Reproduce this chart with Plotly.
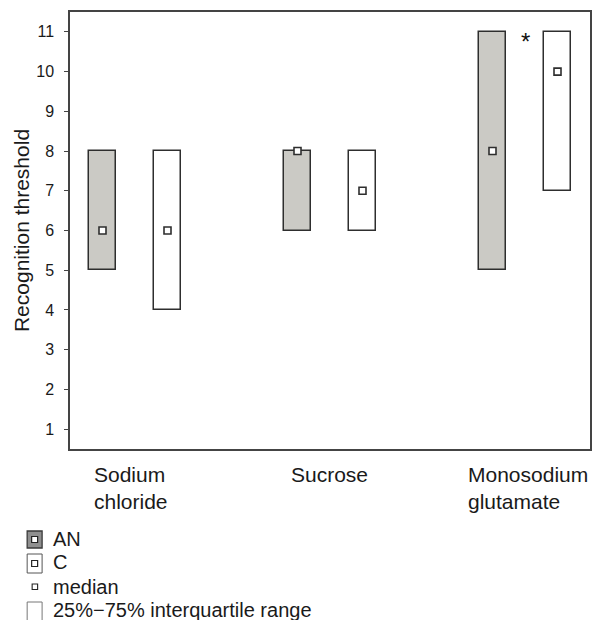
import plotly.graph_objects as go

# Recognition thresholds: interquartile range (25%-75%) and median per tastant
categories = ["Sodium<br>chloride", "Sucrose", "Monosodium<br>glutamate"]
an_q25 = [5, 6, 5]
an_q75 = [8, 8, 11]
an_median = [6, 8, 8]
c_q25 = [4, 6, 7]
c_q75 = [8, 8, 11]
c_median = [6, 7, 10]
y_ticks = list(range(1, 12))
significant = [False, False, True]

# figure geometry (pixels)
W, H = 594, 620
ML, MR, MT, MB = 70, 2, 12, 171
PW, PH = W - ML - MR, H - MT - MB

FONT = "Liberation Sans, Arial, sans-serif"
GRAY = "#cbcac5"
EDGE = "#2e2e2e"
TEXT = "#1a1a1a"

group_x = [3 * i for i in range(len(categories))]
an_x = [g - 0.5 for g in group_x]
c_x = [g + 0.5 for g in group_x]
BAR_W = 0.41
# left edge (px) of each category label block
label_left = [92, 290, 468]


def px(x):
    return (x - ML) / PW


def py(y):
    return (MT + PH - y) / PH


fig = go.Figure()

fig.add_trace(go.Bar(
    x=an_x, y=[t - b for b, t in zip(an_q25, an_q75)], base=an_q25,
    width=BAR_W, marker=dict(color=GRAY, line=dict(color=EDGE, width=1.5)),
    showlegend=False, hoverinfo="skip"))
fig.add_trace(go.Bar(
    x=c_x, y=[t - b for b, t in zip(c_q25, c_q75)], base=c_q25,
    width=BAR_W, marker=dict(color="white", line=dict(color=EDGE, width=1.5)),
    showlegend=False, hoverinfo="skip"))

fig.add_trace(go.Scatter(
    x=an_x + c_x, y=an_median + c_median, mode="markers",
    marker=dict(symbol="square", size=7, color="white",
                line=dict(color=EDGE, width=1.6)),
    showlegend=False, hoverinfo="skip", cliponaxis=False))

# significance marker
for g, sig, top in zip(group_x, significant, an_q75):
    if sig:
        fig.add_annotation(x=g, y=top - 0.25, xref="x", yref="y", text="*",
                           showarrow=False, yanchor="middle",
                           font=dict(family=FONT, size=24, color="#111"))

# category labels under the frame
for left, name in zip(label_left, categories):
    fig.add_annotation(x=px(left), y=py(461), xref="paper", yref="paper",
                       text=name, showarrow=False, xanchor="left",
                       yanchor="top", align="left",
                       font=dict(family=FONT, size=21, color=TEXT))

# legend block
def box(x0, y0, x1, y1, fill, line_color, lw=1.2):
    fig.add_shape(type="rect", xref="paper", yref="paper",
                  x0=px(x0), x1=px(x1), y0=py(y1), y1=py(y0),
                  fillcolor=fill, line=dict(color=line_color, width=lw),
                  layer="above")


box(27, 531, 42, 548, "#8f8f8f", "#3a3a3a", 1.3)
box(31.5, 536.5, 37.5, 542.5, "white", "#222", 1.2)
box(27, 554, 42, 573, "white", "#555", 1.0)
box(31.5, 560.5, 37.5, 566.5, "white", "#222", 1.2)
box(32, 584, 37.5, 589.5, "white", "#222", 1.1)
box(27, 602, 42, 630, "white", "#777", 1.0)

legend_items = [("AN", 539), ("C", 562), ("median", 587),
                ("25%\u221275% interquartile range", 610)]
for label, yy in legend_items:
    fig.add_annotation(x=px(51), y=py(yy), xref="paper", yref="paper",
                       text=label, showarrow=False, xanchor="left",
                       yanchor="middle",
                       font=dict(family=FONT, size=20, color=TEXT))

fig.update_layout(
    width=W, height=H,
    margin=dict(l=ML, r=MR, t=MT, b=MB),
    paper_bgcolor="white", plot_bgcolor="white",
    barmode="overlay", bargap=0,
    font=dict(family=FONT, size=20, color=TEXT),
)
fig.update_xaxes(range=[-1, 7], showticklabels=False, ticks="",
                 showgrid=False, zeroline=False,
                 showline=True, mirror=True, linecolor="#444", linewidth=1.5)
fig.update_yaxes(range=[0.5, 11.5], tickvals=y_ticks, ticks="outside",
                 ticklen=4, tickcolor="#444", tickwidth=1.2,
                 ticklabelstandoff=7,
                 showgrid=False, zeroline=False,
                 showline=True, mirror=True, linecolor="#444", linewidth=1.5,
                 title=dict(text="Recognition threshold", standoff=1,
                            font=dict(family=FONT, size=21, color=TEXT)),
                 tickfont=dict(family=FONT, size=16, color=TEXT))

fig.write_html("out.html")
